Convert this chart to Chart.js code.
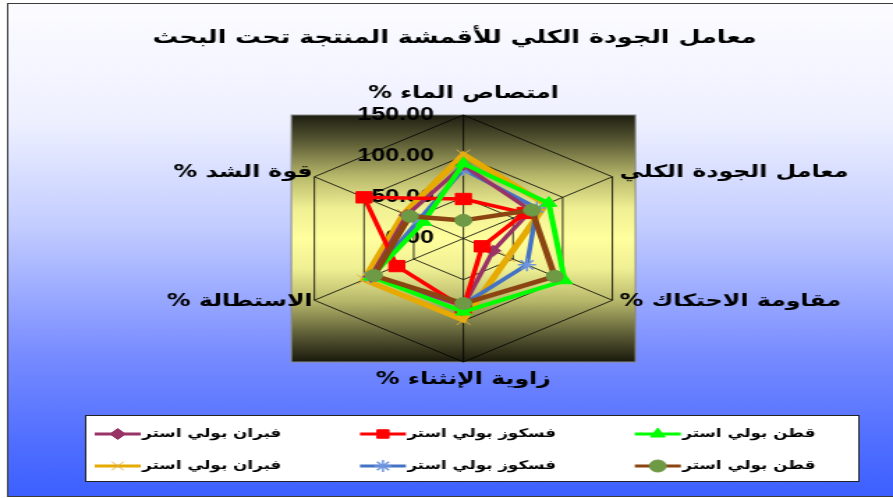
<!DOCTYPE html>
<html><head><meta charset="utf-8">
<script src="https://cdn.jsdelivr.net/npm/chart.js@4/dist/chart.umd.min.js"></script>
<style>
html,body{margin:0;padding:0;background:#fff;overflow:hidden;width:893px;height:498px}
#wrap{width:641px;height:498px;transform:scale(1.393136,1);transform-origin:0 0}
</style></head><body>
<div id="wrap"><canvas id="c" width="641" height="498"></canvas></div>
<script>
// ---------- data ----------
const chartTitle = 'معامل الجودة الكلي للأقمشة المنتجة تحت البحث';
const categories = ['امتصاص الماء %', 'معامل الجودة الكلي', 'مقاومة الاحتكاك %', 'زاوية الإنثناء %', 'الاستطالة %', 'قوة الشد %'];
const seriesNames = ['قطن بولي استر', 'فسكوز بولي استر', 'فبران بولي استر', 'قطن بولي استر', 'فسكوز بولي استر', 'فبران بولي استر'];
const cottonA   = [91, 86, 102, 89, 93, 40];
const viscoseA  = [48, 62, 19, 84, 67, 100];
const fibranA   = [89, 68, 30, 82, 93, 57];
const cottonB   = [22, 69, 92, 79, 90, 54];
const viscoseB  = [84, 74, 64, 80, 93, 45];
const fibranB   = [102, 83, 45, 99, 100, 60];
const tickValues = [0, 50, 100, 150];
const tickLabels = ['0.00', '50.00', '100.00', '150.00'];

// ---------- styles / layout ----------
const GEO = { cx: 332.6, cy: 238.5, r: 123.5 };
const LEG = { font: 12, pad: 20, box: 64.5, line: 33 };
const LEGEND_ORDER = [2, 1, 0, 5, 4, 3];
const styles = [
  { color: '#00ff00', ptFill: '#00ff00', ptBorder: '#00ff00', style: 'triangle', radius: 6.5, width: 4, ptw: 1, order: 1 },
  { color: '#ff0000', ptFill: '#ff0000', ptBorder: '#ff0000', style: 'rect', radius: 8, width: 3.5, ptw: 1, order: 2 },
  { color: '#993366', ptFill: '#993366', ptBorder: '#993366', style: 'rectRot', radius: 5.5, width: 3.5, ptw: 1, order: 3 },
  { color: '#8b4513', ptFill: '#6e9a46', ptBorder: '#6e9a46', style: 'circle', radius: 6, width: 4.5, ptw: 1, order: 0 },
  { color: '#4472c4', ptFill: '#6f95e0', ptBorder: '#6f95e0', style: 'star', radius: 6.5, width: 3.5, ptw: 1.5, order: 4 },
  { color: '#e6aa00', ptFill: '#e6b84a', ptBorder: '#e0b040', style: 'crossRot', radius: 7, width: 5, ptw: 1, order: 5 }
];
const seriesData = [cottonA, viscoseA, fibranA, cottonB, viscoseB, fibranB];

const datasets = seriesData.map((d, i) => ({
  label: seriesNames[i],
  data: d,
  borderColor: styles[i].color,
  backgroundColor: styles[i].color,
  borderWidth: styles[i].width,
  pointStyle: styles[i].style,
  pointRadius: styles[i].radius,
  pointBackgroundColor: styles[i].ptFill,
  pointBorderColor: styles[i].ptBorder,
  pointBorderWidth: styles[i].ptw,
  fill: false,
  tension: 0,
  clip: false,
  order: styles[i].order
}));

const bgPlugin = {
  id: 'bgPlugin',
  beforeDraw(chart) {
    const ctx = chart.ctx, W = chart.width, H = chart.height;
    ctx.save();
    ctx.fillStyle = '#ffffff';
    ctx.fillRect(0, 0, W, H);
    const g = ctx.createLinearGradient(0, 3, 0, 497);
    g.addColorStop(0, 'rgb(252,252,255)');
    g.addColorStop(0.24, 'rgb(238,240,255)');
    g.addColorStop(0.45, 'rgb(195,205,255)');
    g.addColorStop(0.71, 'rgb(120,140,255)');
    g.addColorStop(0.88, 'rgb(82,112,255)');
    g.addColorStop(1, 'rgb(60,95,255)');
    ctx.fillStyle = g;
    ctx.fillRect(5.5, 3.5, W, 493);
    ctx.strokeStyle = '#3a3a3a';
    ctx.lineWidth = 1;
    ctx.strokeRect(5.5, 3.5, W + 10, 493);
    // plot area
    const s = chart.scales.r;
    const t = s.yCenter - s.drawingArea, b = s.yCenter + s.drawingArea;
    const l = s.xCenter - s.drawingArea, rr = s.xCenter + s.drawingArea;
    const pg = ctx.createLinearGradient(0, t, 0, b);
    pg.addColorStop(0, 'rgb(30,30,18)');
    pg.addColorStop(0.1, 'rgb(85,85,50)');
    pg.addColorStop(0.25, 'rgb(185,185,108)');
    pg.addColorStop(0.38, 'rgb(240,240,148)');
    pg.addColorStop(0.5, 'rgb(255,255,158)');
    pg.addColorStop(0.62, 'rgb(240,240,148)');
    pg.addColorStop(0.75, 'rgb(185,185,108)');
    pg.addColorStop(0.9, 'rgb(85,85,50)');
    pg.addColorStop(1, 'rgb(25,25,12)');
    ctx.fillStyle = pg;
    ctx.fillRect(l, t, rr - l, b - t);
    ctx.strokeStyle = '#8a8a8a';
    ctx.strokeRect(l, t, rr - l, b - t);
    // legend frame
    ctx.fillStyle = '#ffffff';
    ctx.fillRect(61.5, 415.5, 555, 66);
    ctx.strokeStyle = '#222222';
    ctx.strokeRect(61.5, 415.5, 555, 66);
    ctx.restore();
  }
};

const labelPlugin = {
  id: 'labelPlugin',
  beforeDatasetsDraw(chart) {
    const s = chart.scales.r, ctx = chart.ctx;
    ctx.save();
    ctx.fillStyle = '#000';
    ctx.font = 'bold 18px "Liberation Sans", Arial, sans-serif';
    ctx.textAlign = 'right';
    ctx.textBaseline = 'middle';
    s.ticks.forEach((t, i) => {
      const d = s.getDistanceFromCenterForValue(t.value);
      ctx.fillText(tickLabels[i], s.xCenter - 21, s.yCenter - d);
    });
    ctx.direction = 'rtl';
    ctx.font = 'bold 17px "DejaVu Sans", sans-serif';
    const n = categories.length;
    for (let i = 0; i < n; i++) {
      const p = s.getPointPosition(i, s.drawingArea + 6);
      const deg = Math.round(i * 360 / n) % 360;
      let x = p.x, y = p.y;
      if (deg === 0) { ctx.textAlign = 'center'; y = p.y - 15; }
      else if (deg === 180) { ctx.textAlign = 'center'; y = p.y + 12; }
      else if (deg < 180) { ctx.textAlign = 'left'; y = p.y - 1.5; }
      else { ctx.textAlign = 'right'; x = p.x + 4; y = p.y - 1.5; }
      ctx.fillText(categories[i], x, y);
    }
    ctx.restore();
  }
};

const legendMarkPlugin = {
  id: 'legendMarkPlugin',
  afterDraw(chart) {
    const lg = chart.legend, ctx = chart.ctx;
    if (!lg || !lg.legendItems) return;
    ctx.save();
    lg.legendItems.forEach((item, i) => {
      const hb = lg.legendHitBoxes[i];
      const ds = chart.data.datasets[item.datasetIndex];
      const x1 = hb.left + LEG.box + 5, x0 = x1 - LEG.line, y = hb.top + LEG.font / 2;
      ctx.strokeStyle = ds.borderColor;
      ctx.lineWidth = 3;
      ctx.beginPath();
      ctx.moveTo(x0, y);
      ctx.lineTo(x1, y);
      ctx.stroke();
      ctx.fillStyle = ds.pointBackgroundColor;
      ctx.strokeStyle = ds.pointBorderColor;
      ctx.lineWidth = ds.pointBorderWidth;
      Chart.helpers.drawPoint(ctx, { pointStyle: ds.pointStyle, radius: Math.min(ds.pointRadius, 6), borderWidth: ds.pointBorderWidth, rotation: 0 }, (x0 + x1) / 2, y);
    });
    ctx.restore();
  }
};

new Chart(document.getElementById('c'), {
  type: 'radar',
  data: { labels: categories, datasets },
  options: {
    responsive: false,
    animation: false,
    devicePixelRatio: 1,
    layout: { padding: { left: 11.5, right: 0, top: 0, bottom: 16 } },
    scales: {
      r: {
        min: 0, max: 150,
        afterBuildTicks(scale) { scale.ticks = tickValues.map(v => ({ value: v })); },
        afterFit(scale) { scale.xCenter = GEO.cx; scale.yCenter = GEO.cy; scale.drawingArea = GEO.r; },
        ticks: { display: false, stepSize: 50 },
        pointLabels: { display: false },
        grid: { circular: false, color: 'rgba(0,0,0,0.8)', lineWidth: 1 },
        angleLines: { color: 'rgba(0,0,0,0.8)', lineWidth: 1 }
      }
    },
    plugins: {
      title: {
        display: true, text: chartTitle, color: '#000',
        font: { family: '"DejaVu Sans", sans-serif', size: 18.3, weight: 'bold' },
        padding: { top: 27, bottom: 10 }
      },
      legend: {
        position: 'bottom', align: 'start',
        labels: {
          color: '#000',
          font: { family: '"DejaVu Sans", sans-serif', size: LEG.font, weight: 'bold' },
          boxWidth: LEG.box, boxHeight: LEG.font, padding: LEG.pad,
          generateLabels(chart) {
            const items = Chart.defaults.plugins.legend.labels.generateLabels(chart);
            items.forEach(it => { it.fillStyle = 'rgba(0,0,0,0)'; it.strokeStyle = 'rgba(0,0,0,0)'; it.lineWidth = 0; });
            return items;
          },
          sort: (a, b) => LEGEND_ORDER.indexOf(a.datasetIndex) - LEGEND_ORDER.indexOf(b.datasetIndex)
        }
      },
      tooltip: { enabled: false }
    }
  },
  plugins: [bgPlugin, labelPlugin, legendMarkPlugin]
});
</script>
</body></html>
